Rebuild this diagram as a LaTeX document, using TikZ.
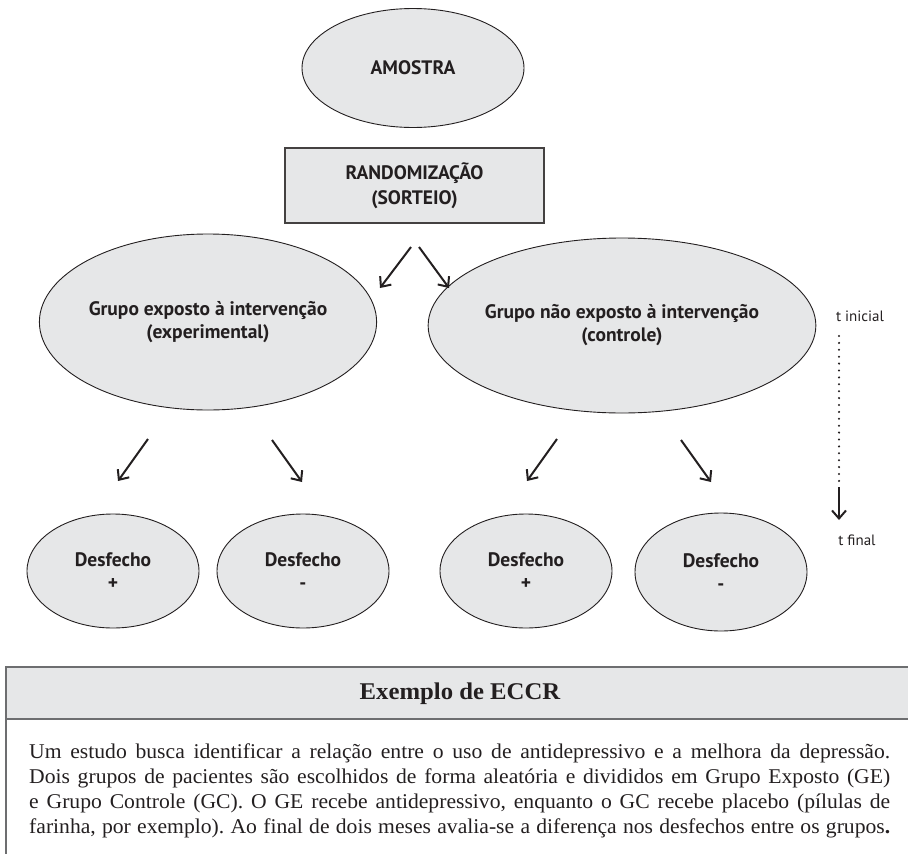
\documentclass[tikz,border=0pt]{standalone}
\usepackage{fontspec}
\setmainfont{Liberation Serif}[FakeStretch=1.03]
\newfontfamily\diagfont{PT Sans}
\usetikzlibrary{shapes.geometric,arrows.meta}
\definecolor{nodefill}{HTML}{E6E7E8}
\definecolor{boxline}{HTML}{6D6E70}
\definecolor{ink}{HTML}{231F20}
\frenchspacing
\tikzset{
  oval/.style={ellipse, draw=ink, line width=0.9pt, fill=nodefill, inner sep=0pt,
    font=\diagfont\bfseries\fontsize{19.5}{23}\selectfont, align=center, text=ink},
  randbox/.style={rectangle, draw=ink!85, line width=1.2pt, fill=nodefill, inner sep=0pt,
    font=\diagfont\bfseries\fontsize{19.5}{25}\selectfont, align=center, text=ink},
  arr/.style={draw=ink, line width=2pt, -{Straight Barb[length=8pt,width=14pt]}},
  timelbl/.style={font=\diagfont\fontsize{15}{17}\selectfont, text=ink, inner sep=0pt},
  bodyline/.style={anchor=base west, inner sep=0pt, text=ink, font=\fontsize{21}{25}\selectfont},
}
\begin{document}
\begin{tikzpicture}[x=1pt,y=-1pt]
\useasboundingbox (0,0) rectangle (908,854);
% nodes
\node[oval, minimum width=222pt, minimum height=119pt] (amostra) at (413,68) {AMOSTRA};
\node[randbox, minimum width=259pt, minimum height=75pt] (rand) at (414.5,185.5) {RANDOMIZAÇÃO\\(SORTEIO)};
\node[oval, minimum width=320pt, minimum height=176pt] (grpE) at (208,322) {Grupo exposto à intervenção\\(experimental)};
\node[oval, minimum width=320pt, minimum height=175pt] (grpC) at (622,325.5) {Grupo não exposto à intervenção\\(controle)};
\node[oval, minimum width=172pt, minimum height=114pt] (d1) at (113,571) {Desfecho\\+};
\node[oval, minimum width=172pt, minimum height=114pt] (d2) at (303,571) {Desfecho\\-};
\node[oval, minimum width=172pt, minimum height=114pt] (d3) at (526,571) {Desfecho\\+};
\node[oval, minimum width=172pt, minimum height=118pt] (d4) at (721,572) {Desfecho\\-};
% arrow coordinates
\coordinate (a1s) at (411,247); \coordinate (a1e) at (380,288);
\coordinate (a2s) at (419,247); \coordinate (a2e) at (449,288);
\coordinate (b1s) at (148,439); \coordinate (b1e) at (118,481);
\coordinate (b2s) at (272,440); \coordinate (b2e) at (302,482);
\coordinate (c1s) at (557,439); \coordinate (c1e) at (527,481);
\coordinate (c2s) at (681,440); \coordinate (c2e) at (711,482);
\draw[arr] (a1s) -- (a1e);
\draw[arr] (a2s) -- (a2e);
\draw[arr] (b1s) -- (b1e);
\draw[arr] (b2s) -- (b2e);
\draw[arr] (c1s) -- (c1e);
\draw[arr] (c2s) -- (c2e);
% time axis
\node[timelbl] (tini) at (860,316) {t inicial};
\node[timelbl] (tfin) at (857,540) {t final};
\coordinate (tdot1) at (839,336);
\coordinate (tdot2) at (839,487);
\coordinate (tend) at (839,520);
\draw[ink, line width=2.3pt, line cap=round, dash pattern=on 0pt off 6.9pt] (tdot1) -- (tdot2);
\draw[arr] (tdot2) -- (tend);
% example box
\fill[nodefill] (6,667) rectangle (908,719);
\draw[boxline, line width=1.6pt] (908,667) -- (6,667) -- (6,860);
\draw[boxline, line width=1.6pt] (6,719) -- (908,719);
\node[font=\bfseries\fontsize{24}{28}\selectfont, text=ink] (hdr) at (460,694) {Exemplo de ECCR};
\node[bodyline] (body1) at (29,758) {\makebox[861pt][s]{Um estudo busca identificar a relação entre o uso de antidepressivo e a melhora da depressão.}};
\node[bodyline] (body2) at (29,783) {\makebox[861pt][s]{Dois grupos de pacientes são escolhidos de forma aleatória e divididos em Grupo Exposto (GE)}};
\node[bodyline] (body3) at (29,808) {\makebox[861pt][s]{e Grupo Controle (GC). O GE recebe antidepressivo, enquanto o GC recebe placebo (pílulas de}};
\node[bodyline] (body4) at (29,833) {\makebox[861pt][s]{farinha, por exemplo). Ao final de dois meses avalia-se a diferença nos desfechos entre os grupos\textbf{.}}};
\end{tikzpicture}
\end{document}
